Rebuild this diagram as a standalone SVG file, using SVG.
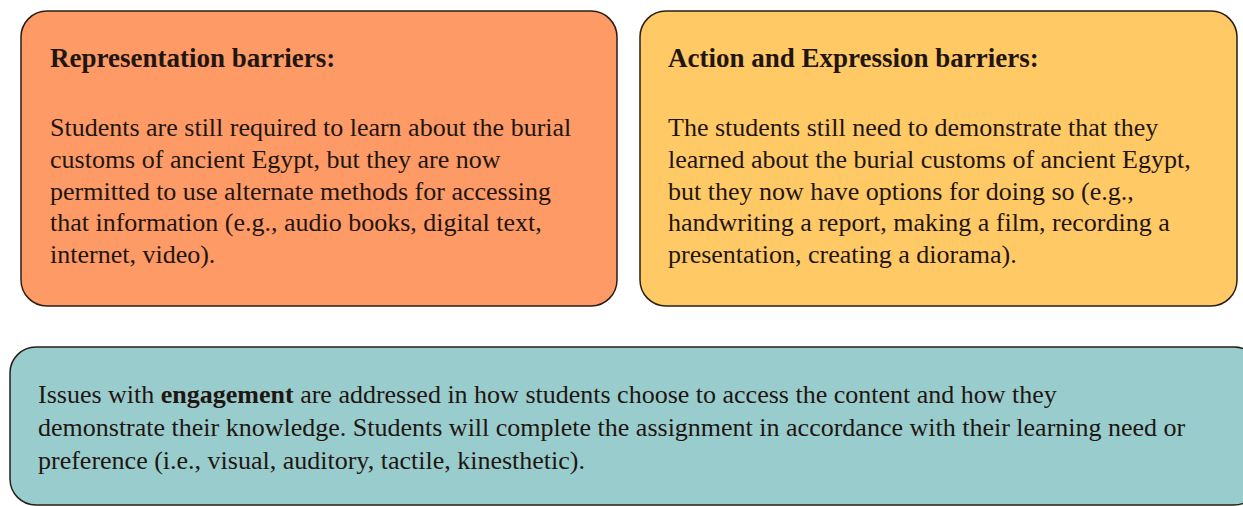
<svg xmlns="http://www.w3.org/2000/svg" width="1243" height="506" viewBox="0 0 1243 506">
<style>
.box{stroke:#2a1e14;stroke-width:1.5}
text{font-family:"Liberation Serif","Times New Roman",serif;font-size:26px;fill:#1f1612}
.t{font-weight:bold}
.h{font-size:27px}
</style>
<rect width="1243" height="506" fill="#ffffff"/>
<g id="representation">
<rect class="box" x="21" y="11" width="596" height="295" rx="26" fill="#fd9a66"/>
<text class="t h" x="50" y="67">Representation barriers:</text>
<text x="50" y="136">Students are still required to learn about the burial</text>
<text x="50" y="168">customs of ancient Egypt, but they are now</text>
<text x="50" y="200">permitted to use alternate methods for accessing</text>
<text x="50" y="231">that information (e.g., audio books, digital text,</text>
<text x="50" y="263">internet, video).</text>
</g>
<g id="action">
<rect class="box" x="640" y="11" width="597" height="295" rx="26" fill="#ffc966"/>
<text class="t h" x="668" y="67">Action and Expression barriers:</text>
<text x="668" y="136">The students still need to demonstrate that they</text>
<text x="668" y="168">learned about the burial customs of ancient Egypt,</text>
<text x="668" y="200">but they now have options for doing so (e.g.,</text>
<text x="668" y="231">handwriting a report, making a film, recording a</text>
<text x="668" y="263">presentation, creating a diorama).</text>
</g>
<g id="engagement">
<rect class="box" x="10" y="347" width="1250" height="158" rx="26" fill="#99cccc"/>
<text x="38" y="403">Issues with <tspan class="t">engagement</tspan> are addressed in how students choose to access the content and how they</text>
<text x="38" y="436">demonstrate their knowledge. Students will complete the assignment in accordance with their learning need or</text>
<text x="38" y="469">preference (i.e., visual, auditory, tactile, kinesthetic).</text>
</g>
<g id="connectors"></g>
</svg>
